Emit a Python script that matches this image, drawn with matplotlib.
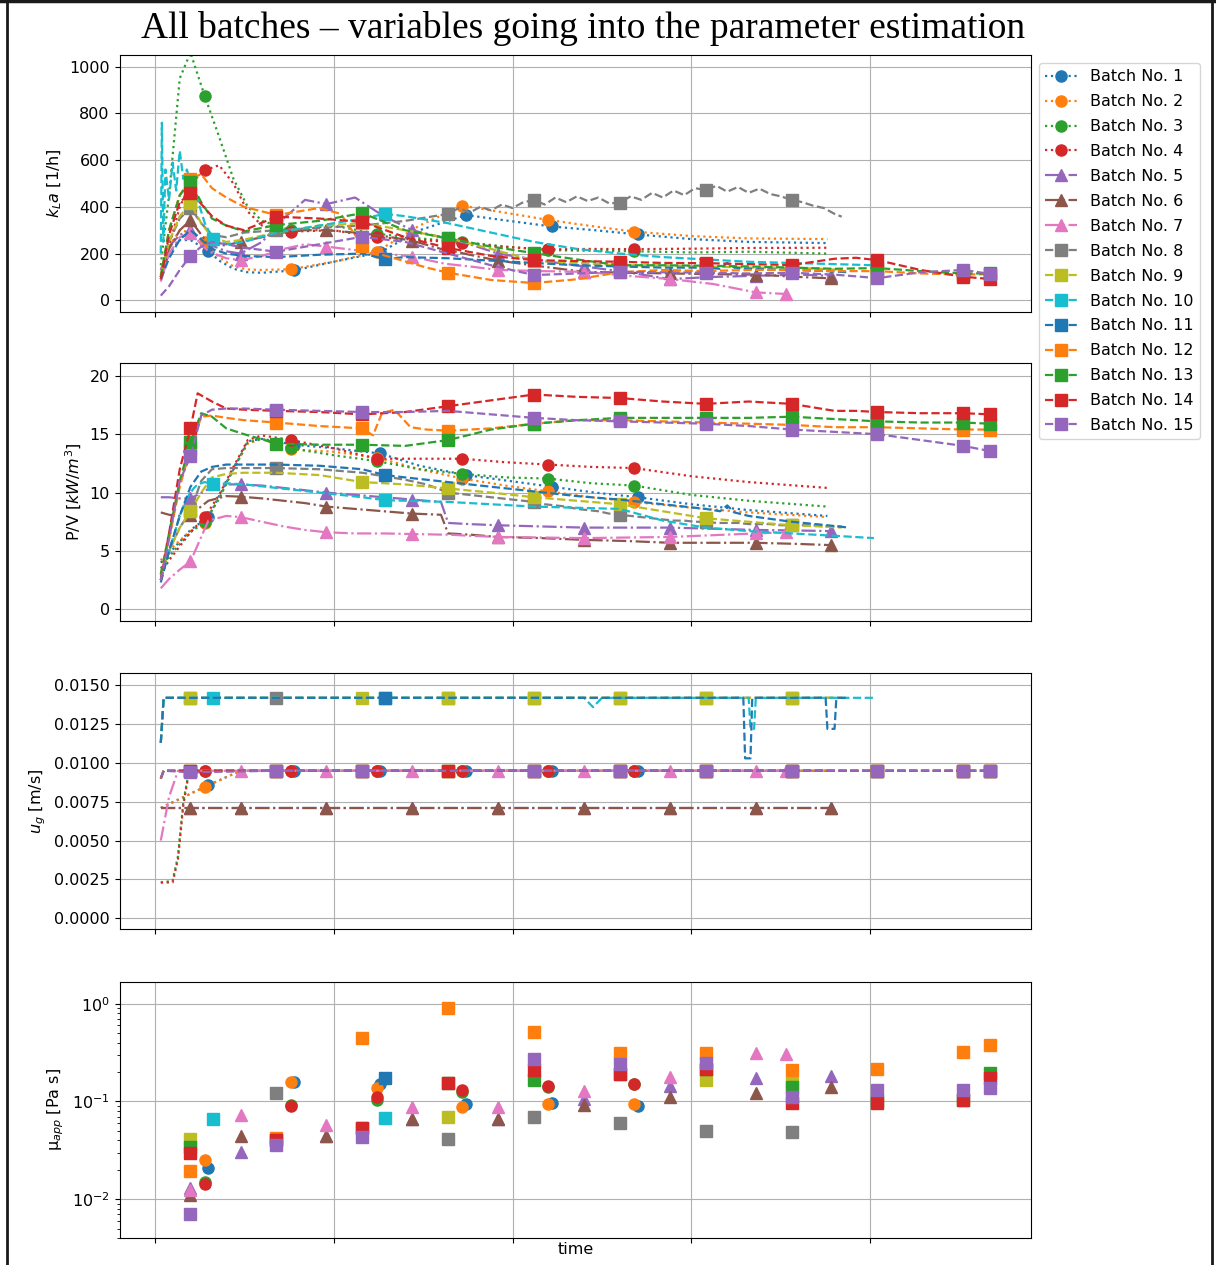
import numpy as np
import matplotlib
matplotlib.use('Agg')
import matplotlib.pyplot as plt
from matplotlib.lines import Line2D
from matplotlib.ticker import FormatStrFormatter

# ---------------- data (time in h) ----------------
# Batch 1
t1 = [1.7, 4, 7, 10, 15, 18, 22, 26, 30, 39, 50, 63, 74, 87, 99, 111, 123, 135, 150, 166, 188]
kla1 = [100, 200, 258, 258, 212, 170, 135, 120, 118, 128, 165, 205, 300, 365, 340, 316, 300, 282, 262, 250, 245]
pv1 = [4.0, 4.8, 5.8, 6.8, 7.9, 9.7, 12.0, 14.4, 14.6, 14.1, 13.8, 13.35, 12.3, 11.5, 11.0, 10.5, 10.0, 9.6, 9.0, 8.5, 8.0]
s1 = [15, 39, 63, 87, 111, 135]
ugt1 = [1.7, 15, 24, 39, 63, 87, 111, 135, 188]
ug1 = [0.0071, 0.00857, 0.0095, 0.0095, 0.0095, 0.0095, 0.0095, 0.0095, 0.0095]
mu1 = [0.021, 0.157, 0.15, 0.094, 0.096, 0.090]
# Batch 2
t2 = [1.7, 4, 7, 10, 14, 18, 22, 26, 30, 38, 50, 62, 74, 86, 98, 110, 122, 134, 150, 166, 188]
kla2 = [110, 230, 300, 290, 250, 185, 145, 132, 130, 133, 165, 208, 320, 405, 375, 344, 318, 294, 275, 265, 262]
pv2 = [4.2, 5.0, 5.9, 6.7, 7.4, 9.5, 12.0, 14.2, 14.6, 13.7, 13.5, 13.0, 12.0, 11.2, 10.6, 10.1, 9.6, 9.2, 8.7, 8.3, 7.9]
s2 = [14, 38, 62, 86, 110, 134]
ugt2 = [1.7, 14, 24, 38, 62, 86, 110, 134, 188]
ug2 = [0.0071, 0.00846, 0.0095, 0.0095, 0.0095, 0.0095, 0.0095, 0.0095, 0.0095]
mu2 = [0.0252, 0.160, 0.136, 0.087, 0.0936, 0.0936]
# Batch 3
t3 = [1.7, 4, 7, 10, 14, 18, 22, 26, 30, 38, 50, 62, 74, 86, 98, 110, 122, 134, 150, 166, 188]
kla3 = [150, 450, 950, 1060, 873, 700, 520, 400, 340, 300, 320, 285, 265, 250, 230, 215, 212, 210, 205, 208, 200]
pv3 = [3.5, 4.5, 5.6, 6.6, 7.5, 9.5, 12.0, 14.3, 14.6, 13.8, 13.2, 12.7, 12.0, 11.6, 11.3, 11.2, 10.8, 10.6, 9.8, 9.3, 8.8]
s3 = [14, 38, 62, 86, 110, 134]
ugt3 = [1.7, 5, 6.5, 8, 9.5, 14, 38, 62, 86, 110, 134, 188]
ug3 = [0.0023, 0.0024, 0.0040, 0.0075, 0.0094, 0.0095, 0.0095, 0.0095, 0.0095, 0.0095, 0.0095, 0.0095]
mu3 = [0.0151, 0.092, 0.104, 0.125, 0.140, 0.152]
# Batch 4
t4 = [1.7, 4, 7, 10, 14, 18, 22, 26, 30, 38, 50, 62, 74, 86, 98, 110, 122, 134, 150, 166, 188]
kla4 = [100, 230, 400, 500, 557, 578, 500, 380, 320, 294, 300, 270, 258, 247, 228, 218, 220, 219, 221, 224, 225]
pv4 = [3.0, 4.2, 5.4, 6.6, 7.9, 9.8, 12.2, 14.5, 14.9, 14.5, 13.8, 12.9, 12.9, 12.9, 12.6, 12.4, 12.2, 12.1, 11.4, 10.9, 10.4]
s4 = [14, 38, 62, 86, 110, 134]
ugt4 = [1.7, 5, 6.5, 8, 9.5, 14, 38, 62, 86, 110, 134, 188]
ug4 = [0.0023, 0.0023, 0.0038, 0.0073, 0.0093, 0.0095, 0.0095, 0.0095, 0.0095, 0.0095, 0.0095, 0.0095]
mu4 = [0.0143, 0.090, 0.112, 0.131, 0.144, 0.150]
# Batch 5
t5 = [1.7, 4, 7, 10, 15, 20, 24, 30, 36, 42, 48, 56, 64, 72, 80, 82, 88, 96, 108, 120, 132, 144, 156, 168, 180, 189]
kla5 = [130, 230, 280, 300, 240, 210, 200, 250, 350, 430, 412, 440, 360, 300, 270, 265, 240, 200, 170, 145, 120, 91, 100, 105, 110, 105]
pv5 = [9.6, 9.6, 9.5, 9.5, 10.3, 10.7, 10.7, 10.6, 10.4, 10.2, 10.0, 9.8, 9.6, 9.4, 9.2, 7.4, 7.3, 7.2, 7.1, 7.0, 7.0, 7.0, 6.9, 6.8, 6.75, 6.7]
s5 = [10, 24, 48, 72, 96, 120, 144, 168, 189]
ugt5 = [1.7, 10, 24, 48, 72, 96, 120, 144, 168, 189]
ug5 = [0.0071, 0.0071, 0.0071, 0.0071, 0.0071, 0.0071, 0.0071, 0.0071, 0.0071, 0.0071]
mu5 = [0.0129, 0.0302, 0.0444, 0.0658, 0.067, 0.105, 0.145, 0.173, 0.184]
# Batch 6
t6 = [1.7, 4, 7, 10, 15, 20, 24, 30, 36, 42, 48, 56, 64, 72, 80, 82, 88, 96, 108, 120, 132, 144, 156, 168, 180, 189]
kla6 = [90, 220, 300, 343, 240, 235, 251, 270, 290, 300, 300, 290, 275, 255, 220, 215, 195, 170, 145, 122, 118, 115, 112, 110, 100, 94]
pv6 = [8.3, 8.1, 8.0, 8.1, 9.3, 9.7, 9.65, 9.5, 9.3, 9.1, 8.8, 8.6, 8.4, 8.2, 8.1, 6.5, 6.4, 6.2, 6.1, 5.95, 5.85, 5.7, 5.7, 5.7, 5.6, 5.5]
s6 = [10, 24, 48, 72, 96, 120, 144, 168, 189]
ugt6 = [1.7, 10, 24, 48, 72, 96, 120, 144, 168, 189]
ug6 = [0.0071, 0.0071, 0.0071, 0.0071, 0.0071, 0.0071, 0.0071, 0.0071, 0.0071, 0.0071]
mu6 = [0.0111, 0.0447, 0.0444, 0.0658, 0.067, 0.092, 0.112, 0.121, 0.142]
# Batch 7
t7 = [1.7, 4, 7, 10, 15, 20, 24, 30, 36, 42, 48, 56, 64, 72, 80, 82, 88, 96, 108, 120, 132, 144, 156, 168, 176.5]
kla7 = [80, 200, 270, 289, 210, 180, 172, 190, 220, 240, 230, 215, 200, 187, 160, 155, 145, 130, 125, 122, 105, 91, 70, 34, 27]
pv7 = [1.8, 2.6, 3.4, 4.1, 7.6, 8.0, 7.9, 7.5, 7.1, 6.8, 6.6, 6.5, 6.5, 6.45, 6.4, 6.4, 6.3, 6.2, 6.15, 6.1, 6.15, 6.2, 6.35, 6.5, 6.6]
s7 = [10, 24, 48, 72, 96, 120, 144, 168, 176.5]
ugt7 = [1.7, 4, 6.5, 10, 24, 48, 72, 96, 120, 144, 168, 176.5]
ug7 = [0.0050, 0.0078, 0.0095, 0.0095, 0.0095, 0.0095, 0.0095, 0.0095, 0.0095, 0.0095, 0.0095, 0.0095]
mu7 = [0.0125, 0.0728, 0.0575, 0.087, 0.087, 0.128, 0.180, 0.316, 0.306]
# Batch 8
t8 = [1.7, 4, 7, 10, 13, 16, 20, 25, 34, 46, 58, 64, 70, 76, 82,
      85, 88, 91, 94, 97, 100, 103, 106, 109, 112, 115, 118, 121, 124, 127, 130, 133, 136, 139, 142,
      145, 148, 151, 154, 157, 160, 163, 166, 169, 172, 175, 178, 181, 184, 187, 190, 192]
kla8 = [100, 250, 350, 395, 330, 280, 270, 290, 300, 310, 320, 330, 340, 355, 370,
        395, 375, 400, 385, 410, 395, 420, 429, 410, 440, 420, 445, 425, 440, 415, 418, 445, 430, 460, 440,
        470, 450, 480, 472, 490, 465, 485, 460, 478, 455, 445, 430, 420, 405, 395, 370, 358]
pv8 = [2.5, 5.0, 7.0, 8.4, 11.0, 12.0, 12.1, 12.1, 12.1, 12.0, 11.7, 11.4, 11.1, 10.7, 10.0,
       9.9, 9.8, 9.7, 9.6, 9.5, 9.4, 9.3, 9.2, 9.0, 8.9, 8.8, 8.6, 8.5, 8.4, 8.2, 8.1, 8.0, 7.9, 7.8, 7.7,
       7.6, 7.6, 7.5, 7.5, 7.4, 7.4, 7.4, 7.3, 7.3, 7.3, 7.2, 7.2, 7.2, 7.2, 7.1, 7.1, 7.1]
s8 = [10, 34, 82, 106, 130, 154, 178]
ugt8 = [1.7, 2.5, 10, 34, 82, 106, 130, 154, 178, 192]
ug8 = [0.0113, 0.0142, 0.0142, 0.0142, 0.0142, 0.0142, 0.0142, 0.0142, 0.0142, 0.0142]
mu8 = [np.nan, 0.121, 0.041, 0.070, 0.0598, 0.050, 0.0484]
# Batch 9
t9 = [1.7, 4, 7, 10, 13, 16, 20, 25, 34, 46, 58, 70, 82, 94, 106, 118, 130, 142, 154, 166, 178, 186, 192]
kla9 = [110, 250, 360, 416, 330, 270, 250, 260, 290, 320, 330, 300, 267, 220, 170, 160, 150, 150, 145, 140, 140, 135, 130]
pv9 = [2.8, 5.0, 7.0, 8.4, 10.0, 11.3, 11.6, 11.7, 11.7, 11.5, 10.9, 10.7, 10.35, 10.0, 9.6, 9.3, 9.0, 8.4, 7.8, 7.5, 7.2, 7.1, 7.0]
s9 = [10, 58, 82, 106, 130, 154, 178]
ugt9 = [1.7, 2.5, 10, 58, 82, 106, 130, 154, 178, 192]
ug9 = [0.0113, 0.0142, 0.0142, 0.0142, 0.0142, 0.0142, 0.0142, 0.0142, 0.0142, 0.0142]
mu9 = [0.041, np.nan, 0.070, np.nan, np.nan, 0.166, 0.153]
# Batch 10
t10 = [1.7, 2.0, 2.4, 3.0, 4.0, 5.0, 6.0, 7.0, 8.0, 9.0, 10, 11, 12, 14, 16.3, 20, 25, 34, 46, 58, 64.4,
       70, 82, 94, 106, 118, 130, 142, 154, 166, 178, 190, 201]
kla10 = [200, 760, 250, 560, 430, 590, 470, 640, 520, 560, 500, 540, 430, 330, 262, 240, 250, 290, 320, 350, 370,
         360, 330, 290, 250, 220, 200, 185, 175, 165, 160, 155, 150]
pv10 = [2.5, 3.0, 3.5, 4.0, 5.0, 6.0, 7.0, 8.0, 8.8, 9.5, 10.0, 10.4, 10.7, 10.9, 10.7, 10.8, 10.7, 10.4, 10.0, 9.6, 9.35,
        9.3, 9.2, 9.0, 8.8, 8.7, 8.6, 7.6, 7.0, 6.7, 6.5, 6.3, 6.1]
s10 = [16.3, 64.4]
ugt10 = [1.7, 2.5, 16.3, 64.4, 120, 122.5, 125, 166, 166.5, 167.5, 168, 201]
ug10 = [0.0113, 0.0142, 0.0142, 0.0142, 0.0142, 0.0136, 0.0142, 0.0142, 0.0122, 0.0122, 0.0142, 0.0142]
mu10 = [0.0658, 0.068]
# Batch 11
t11 = [1.7, 4, 7, 10, 13, 16, 20, 25, 34, 46, 58, 64.4, 70, 82, 94, 106, 118, 130, 142, 154, 158, 160, 162, 166, 178, 188, 194]
kla11 = [90, 180, 260, 300, 260, 220, 200, 190, 185, 195, 200, 177, 185, 180, 170, 160, 150, 145, 140, 140, 135, 160, 140, 135, 130, 125, 120]
pv11 = [2.3, 5.0, 8.0, 10.5, 11.8, 12.2, 12.4, 12.4, 12.4, 12.3, 12.0, 11.5, 11.3, 10.9, 10.5, 10.1, 9.7, 9.4, 9.0, 8.6, 8.4, 8.9, 8.3, 8.0, 7.5, 7.2, 7.0]
s11 = [64.4]
ugt11 = [1.7, 2.5, 64.4, 164.5, 165, 166.5, 167, 187.5, 188, 190, 190.5, 194]
ug11 = [0.0113, 0.0142, 0.0142, 0.0142, 0.0103, 0.0103, 0.0142, 0.0142, 0.0122, 0.0122, 0.0142, 0.0142]
mu11 = [0.175]
# Batch 12
t12 = [1.7, 4, 7, 10, 13, 16, 20, 25, 34, 46, 52, 58, 61, 63.5, 67, 71.5, 76, 82, 94, 106, 118, 130, 142, 154, 166, 178, 190, 202, 214, 226, 233.5]
kla12 = [100, 300, 450, 520, 540, 480, 440, 400, 365, 395, 370, 234, 210, 195, 180, 160, 140, 118, 87, 74, 90, 120, 130, 125, 130, 130, 125, 125, 115, 110, 112]
pv12 = [3.0, 6.0, 10.5, 13.7, 16.5, 16.6, 16.4, 16.2, 16.0, 15.7, 15.6, 15.5, 14.9, 16.8, 17.1, 15.6, 15.4, 15.3, 15.5, 15.9, 16.2, 16.2, 16.1, 16.0, 15.9, 15.8, 15.6, 15.6, 15.5, 15.4, 15.4]
s12 = [10, 34, 58, 82, 106, 130, 154, 178, 202, 226, 233.5]
ugt12 = [1.7, 2.5, 10, 34, 58, 82, 106, 130, 154, 178, 202, 226, 233.5]
ug12 = [0.0090, 0.0095, 0.0095, 0.0095, 0.0095, 0.0095, 0.0095, 0.0095, 0.0095, 0.0095, 0.0095, 0.0095, 0.0095]
mu12 = [0.0195, 0.042, 0.443, 0.897, 0.517, 0.311, 0.311, 0.210, 0.215, 0.323, 0.378]
# Batch 13
t13 = [1.7, 4, 7, 10, 13, 16, 20, 25, 34, 46, 58, 70, 82, 94, 106, 118, 130, 142, 154, 166, 178, 190, 202, 214, 226, 233.5]
kla13 = [100, 300, 450, 508, 420, 350, 320, 295, 322, 340, 373, 300, 265, 230, 202, 175, 150, 150, 148, 145, 140, 135, 138, 125, 115, 115]
pv13 = [3.0, 6.5, 11.0, 14.35, 16.8, 16.5, 15.5, 15.0, 14.2, 14.1, 14.1, 14.0, 14.5, 15.4, 15.9, 16.2, 16.4, 16.4, 16.4, 16.4, 16.5, 16.3, 16.1, 16.0, 16.0, 15.9]
s13 = [10, 34, 58, 82, 106, 130, 154, 178, 202, 226, 233.5]
ugt13 = [1.7, 2.5, 10, 34, 58, 82, 106, 130, 154, 178, 202, 226, 233.5]
ug13 = [0.0090, 0.0095, 0.0095, 0.0095, 0.0095, 0.0095, 0.0095, 0.0095, 0.0095, 0.0095, 0.0095, 0.0095, 0.0095]
mu13 = [0.034, 0.0407, 0.054, 0.153, 0.166, 0.190, 0.213, 0.140, 0.100, 0.104, 0.197]
# Batch 14
t14 = [1.7, 4, 7, 10, 12, 16, 20, 25, 34, 46, 58, 70, 82, 94, 106, 118, 130, 142, 154, 166, 178, 190, 196, 202, 214, 226, 233.5]
kla14 = [90, 280, 420, 459, 430, 360, 320, 300, 358, 350, 336, 270, 224, 190, 172, 168, 165, 160, 159, 155, 151, 178, 182, 172, 130, 101, 91]
pv14 = [2.5, 6.5, 12.0, 15.5, 18.5, 17.8, 17.2, 17.1, 17.0, 16.9, 16.7, 16.9, 17.4, 17.9, 18.4, 18.2, 18.1, 17.8, 17.6, 17.8, 17.6, 17.0, 17.0, 16.9, 16.8, 16.8, 16.7]
s14 = [10, 34, 58, 82, 106, 130, 154, 178, 202, 226, 233.5]
ugt14 = [1.7, 2.5, 10, 34, 58, 82, 106, 130, 154, 178, 202, 226, 233.5]
ug14 = [0.0090, 0.0095, 0.0095, 0.0095, 0.0095, 0.0095, 0.0095, 0.0095, 0.0095, 0.0095, 0.0095, 0.0095, 0.0095]
mu14 = [0.0295, 0.0407, 0.054, 0.153, 0.210, 0.190, 0.213, 0.096, 0.097, 0.104, 0.173]
# Batch 15
t15 = [1.7, 4, 7, 10, 13, 16, 20, 25, 34, 46, 58, 70, 82, 94, 106, 118, 130, 142, 154, 166, 178, 190, 202, 214, 226, 233.5]
kla15 = [20, 60, 130, 190, 230, 250, 240, 225, 208, 240, 272, 250, 200, 150, 108, 115, 122, 120, 118, 115, 118, 110, 95, 120, 130, 113]
pv15 = [2.5, 6.0, 11.0, 13.1, 16.6, 17.1, 17.2, 17.2, 17.1, 17.0, 16.9, 16.9, 17.0, 16.7, 16.4, 16.2, 16.1, 16.0, 15.9, 15.7, 15.4, 15.2, 15.0, 14.5, 14.0, 13.55]
s15 = [10, 34, 58, 106, 130, 154, 178, 202, 226, 233.5]
ugt15 = [1.7, 2.5, 10, 34, 58, 106, 130, 154, 178, 202, 226, 233.5]
ug15 = [0.0090, 0.0095, 0.0094, 0.0095, 0.0095, 0.0095, 0.0095, 0.0095, 0.0095, 0.0095, 0.0095, 0.0095]
mu15 = [0.00703, 0.0359, 0.0437, 0.270, 0.240, 0.245, 0.112, 0.131, 0.131, 0.137]

labels = ['Batch No. %d' % k for k in range(1, 16)]
colors = ['C0', 'C1', 'C2', 'C3', 'C4', 'C5', 'C6', 'C7', 'C8', 'C9', 'C0', 'C1', 'C2', 'C3', 'C4']
styles = [':'] * 4 + ['-.'] * 3 + ['--'] * 8
markers = ['o'] * 4 + ['^'] * 3 + ['s'] * 8
title = 'All batches \u2013 variables going into the parameter estimation'

batches = [
    (t1, kla1, pv1, s1, ugt1, ug1, mu1), (t2, kla2, pv2, s2, ugt2, ug2, mu2),
    (t3, kla3, pv3, s3, ugt3, ug3, mu3), (t4, kla4, pv4, s4, ugt4, ug4, mu4),
    (t5, kla5, pv5, s5, ugt5, ug5, mu5), (t6, kla6, pv6, s6, ugt6, ug6, mu6),
    (t7, kla7, pv7, s7, ugt7, ug7, mu7), (t8, kla8, pv8, s8, ugt8, ug8, mu8),
    (t9, kla9, pv9, s9, ugt9, ug9, mu9), (t10, kla10, pv10, s10, ugt10, ug10, mu10),
    (t11, kla11, pv11, s11, ugt11, ug11, mu11), (t12, kla12, pv12, s12, ugt12, ug12, mu12),
    (t13, kla13, pv13, s13, ugt13, ug13, mu13), (t14, kla14, pv14, s14, ugt14, ug14, mu14),
    (t15, kla15, pv15, s15, ugt15, ug15, mu15),
]

# ---------------- figure ----------------
FS = 11.5
W, H = 1216, 1265
fig = plt.figure(figsize=(W / 100, H / 100), dpi=100)


def rect(top, bottom, left=119.5, right=1031):
    return [left / W, 1 - bottom / H, (right - left) / W, (bottom - top) / H]


axes = [fig.add_axes(rect(55, 312)), fig.add_axes(rect(363, 621)),
        fig.add_axes(rect(673, 929)), fig.add_axes(rect(981.7, 1238.3))]

for i, (t, kla, pv, s, ugt, ug, mu) in enumerate(batches):
    idx = [t.index(v) for v in s]
    uidx = [ugt.index(v) for v in s]
    kw = dict(color=colors[i], ls=styles[i], marker=markers[i], ms=8, lw=1.6)
    axes[0].plot(t, kla, markevery=idx, label=labels[i], **kw)
    axes[1].plot(t, pv, markevery=idx, **kw)
    axes[2].plot(ugt, ug, markevery=uidx, **kw)
    axes[3].plot(s, mu, ls='none', marker=markers[i], color=colors[i], ms=8)

axes[0].set_ylim(-50, 1050)
axes[0].set_yticks([0, 200, 400, 600, 800, 1000])
axes[0].set_ylabel(r'$k_La$ [1/h]', fontsize=FS)
axes[1].set_ylim(-1.0, 21.1)
axes[1].set_yticks([0, 5, 10, 15, 20])
axes[1].set_ylabel(r'P/V [$kW/m^3$]', fontsize=FS)
axes[2].set_ylim(-0.0007, 0.0158)
axes[2].set_yticks([0, 0.0025, 0.005, 0.0075, 0.01, 0.0125, 0.015])
axes[2].yaxis.set_major_formatter(FormatStrFormatter('%.4f'))
axes[2].set_ylabel(r'$u_g$ [m/s]', fontsize=FS)
axes[3].set_yscale('log')
axes[3].set_ylim(0.00399, 1.679)
axes[3].set_ylabel('\u03bc$_{app}$ [Pa s]', fontsize=FS)
axes[3].set_xlabel('time', fontsize=FS)
axes[3].xaxis.set_label_coords(0.5, -0.016)

for ax in axes:
    ax.set_xlim(-9.84, 244.9)
    ax.set_xticks([0, 50, 100, 150, 200])
    ax.set_xticklabels([])
    ax.grid(True)
    ax.tick_params(labelsize=FS)

axes[0].legend(loc='upper left', bbox_to_anchor=(1.0, 1.0), fontsize=FS,
               borderaxespad=0.5, labelspacing=0.62)

fig.text(583 / W, 1 - 28 / H, title, ha='center', va='center',
         family='Liberation Serif', fontsize=27)

# thin black frame around the picture (left, right, top)
fig.add_artist(Line2D([6.7 / W, 6.7 / W], [0, 1], color='#1a1a1a', lw=2.0, transform=fig.transFigure))
fig.add_artist(Line2D([1212 / W, 1212 / W], [0, 1], color='#1a1a1a', lw=2.0, transform=fig.transFigure))
fig.add_artist(Line2D([0, 1], [1 - 1.2 / H, 1 - 1.2 / H], color='#1a1a1a', lw=2.5, transform=fig.transFigure))

fig.savefig('out.png', dpi=100)
